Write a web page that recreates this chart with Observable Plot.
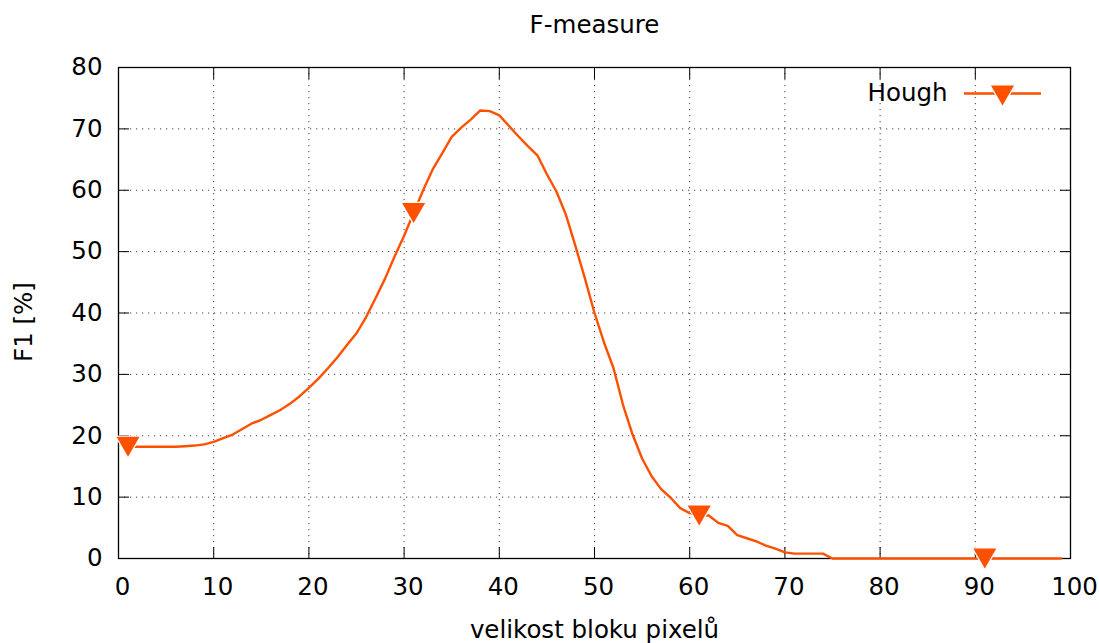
<!DOCTYPE html>
<html>
<head>
<meta charset="utf-8">
<script src="https://cdn.jsdelivr.net/npm/d3@7"></script>
<script src="https://cdn.jsdelivr.net/npm/@observablehq/plot@0.6"></script>
<style>
  html, body { margin: 0; padding: 0; background: #fff; }
  #chart svg { display: block; }
</style>
</head>
<body>
<div id="chart"></div>
<script>
const blockSize = [1,2,3,4,5,6,7,8,9,10,11,12,13,14,15,16,17,18,19,20,21,22,23,24,25,26,27,28,29,30,31,32,33,34,35,36,37,38,39,40,41,42,43,44,45,46,47,48,49,50,51,52,53,54,55,56,57,58,59,60,61,62,63,64,65,66,67,68,69,70,71,72,73,74,75,76,77,78,79,80,81,82,83,84,85,86,87,88,89,90,91,92,93,94,95,96,97,98,99];
const f1Hough = [18.2,18.2,18.2,18.2,18.2,18.2,18.3,18.4,18.6,19.0,19.6,20.2,21.1,22.0,22.6,23.4,24.2,25.2,26.4,27.8,29.3,31.0,32.8,34.8,36.7,39.3,42.4,45.6,49.2,52.6,56.3,60.0,63.4,66.0,68.7,70.2,71.5,73.0,72.9,72.2,70.5,68.8,67.2,65.7,62.6,59.8,56.0,50.9,45.6,40.0,35.2,31.0,25.0,20.2,16.3,13.4,11.3,9.9,8.2,7.4,7.0,7.0,5.8,5.3,3.8,3.3,2.8,2.1,1.6,1.0,0.8,0.8,0.8,0.8,0,0,0,0,0,0,0,0,0,0,0,0,0,0,0,0,0,0,0,0,0,0,0,0,0];
const markerBlocks = [1, 31, 61, 91];
const xTicks = [0,10,20,30,40,50,60,70,80,90,100];
const yTicks = [0,10,20,30,40,50,60,70,80];
const seriesName = "Hough";
const titleText = "F-measure";
const xLabel = "velikost bloku pixelů";
const yLabel = "F1 [%]";

const color = "#ff5000";
const data = blockSize.map((x, i) => ({x, y: f1Hough[i]}));
const markers = data.filter(d => markerBlocks.includes(d.x));

const downTriangle = {
  draw(ctx) {
    ctx.moveTo(-11.5, -10);
    ctx.lineTo(11.5, -10);
    ctx.lineTo(0, 10);
    ctx.closePath();
  }
};
const legendLine = {
  draw(ctx) {
    ctx.moveTo(-38.5, 0);
    ctx.lineTo(38.5, 0);
  }
};

const font = 24.5;
const blank = () => "";

const chart = Plot.plot({
  width: 1099,
  height: 643,
  marginLeft: 118,
  marginRight: 29,
  marginTop: 67,
  marginBottom: 85,
  style: {fontFamily: "DejaVu Sans", background: "#fff", color: "#000"},
  x: {domain: [0, 100]},
  y: {domain: [0, 80]},
  marks: [
    Plot.gridX(xTicks.filter(d => d > 0 && d < 100), {stroke: "#000", strokeOpacity: 0.75, strokeDasharray: "1.2,4.8", strokeWidth: 1}),
    Plot.gridY(yTicks.filter(d => d > 0 && d < 80), {stroke: "#000", strokeOpacity: 0.75, strokeDasharray: "1.2,4.8", strokeWidth: 1}),
    Plot.axisX(xTicks, {anchor: "bottom", tickSize: -11, tickFormat: blank, label: null, stroke: "#000"}),
    Plot.axisX(xTicks, {anchor: "top", tickSize: -11, tickFormat: blank, label: null, stroke: "#000"}),
    Plot.axisY(yTicks, {anchor: "left", tickSize: -11, tickFormat: blank, label: null, stroke: "#000"}),
    Plot.axisY(yTicks, {anchor: "right", tickSize: -11, tickFormat: blank, label: null, stroke: "#000"}),
    Plot.axisX(xTicks, {anchor: "bottom", tickSize: 0, tickPadding: 19.5, dx: 4, fontSize: font, label: null, fill: "#000"}),
    Plot.axisY(yTicks, {anchor: "left", tickSize: 0, tickPadding: 16, fontSize: font, label: null, fill: "#000"}),
    Plot.frame({stroke: "#000", strokeWidth: 1.3}),
    Plot.line(data, {x: "x", y: "y", stroke: color, strokeWidth: 2.4}),
    Plot.dot(markers, {x: "x", y: "y", symbol: downTriangle, fill: color, stroke: "#fff", strokeWidth: 2.5, paintOrder: "stroke"}),
    // title and axis labels
    Plot.text([titleText], {frameAnchor: "top", lineAnchor: "middle", dy: -42, fontSize: font, fill: "#000"}),
    Plot.text([xLabel], {frameAnchor: "bottom", lineAnchor: "middle", dy: 72, fontSize: font, fill: "#000"}),
    Plot.text([yLabel], {frameAnchor: "left", textAnchor: "middle", lineAnchor: "middle", dx: -94, dy: 9, rotate: -90, fontSize: font, fill: "#000"}),
    // legend
    Plot.text([seriesName], {frameAnchor: "top-right", textAnchor: "end", lineAnchor: "middle", dx: -123, dy: 26, fontSize: font, fill: "#000"}),
    Plot.dot([seriesName], {frameAnchor: "top-right", dx: -68, dy: 26, symbol: legendLine, stroke: color, strokeWidth: 2.4, fill: "none"}),
    Plot.dot([seriesName], {frameAnchor: "top-right", dx: -68, dy: 28, symbol: downTriangle, fill: color, stroke: "#fff", strokeWidth: 2.5, paintOrder: "stroke"})
  ]
});
document.getElementById("chart").appendChild(chart);
</script>
</body>
</html>
